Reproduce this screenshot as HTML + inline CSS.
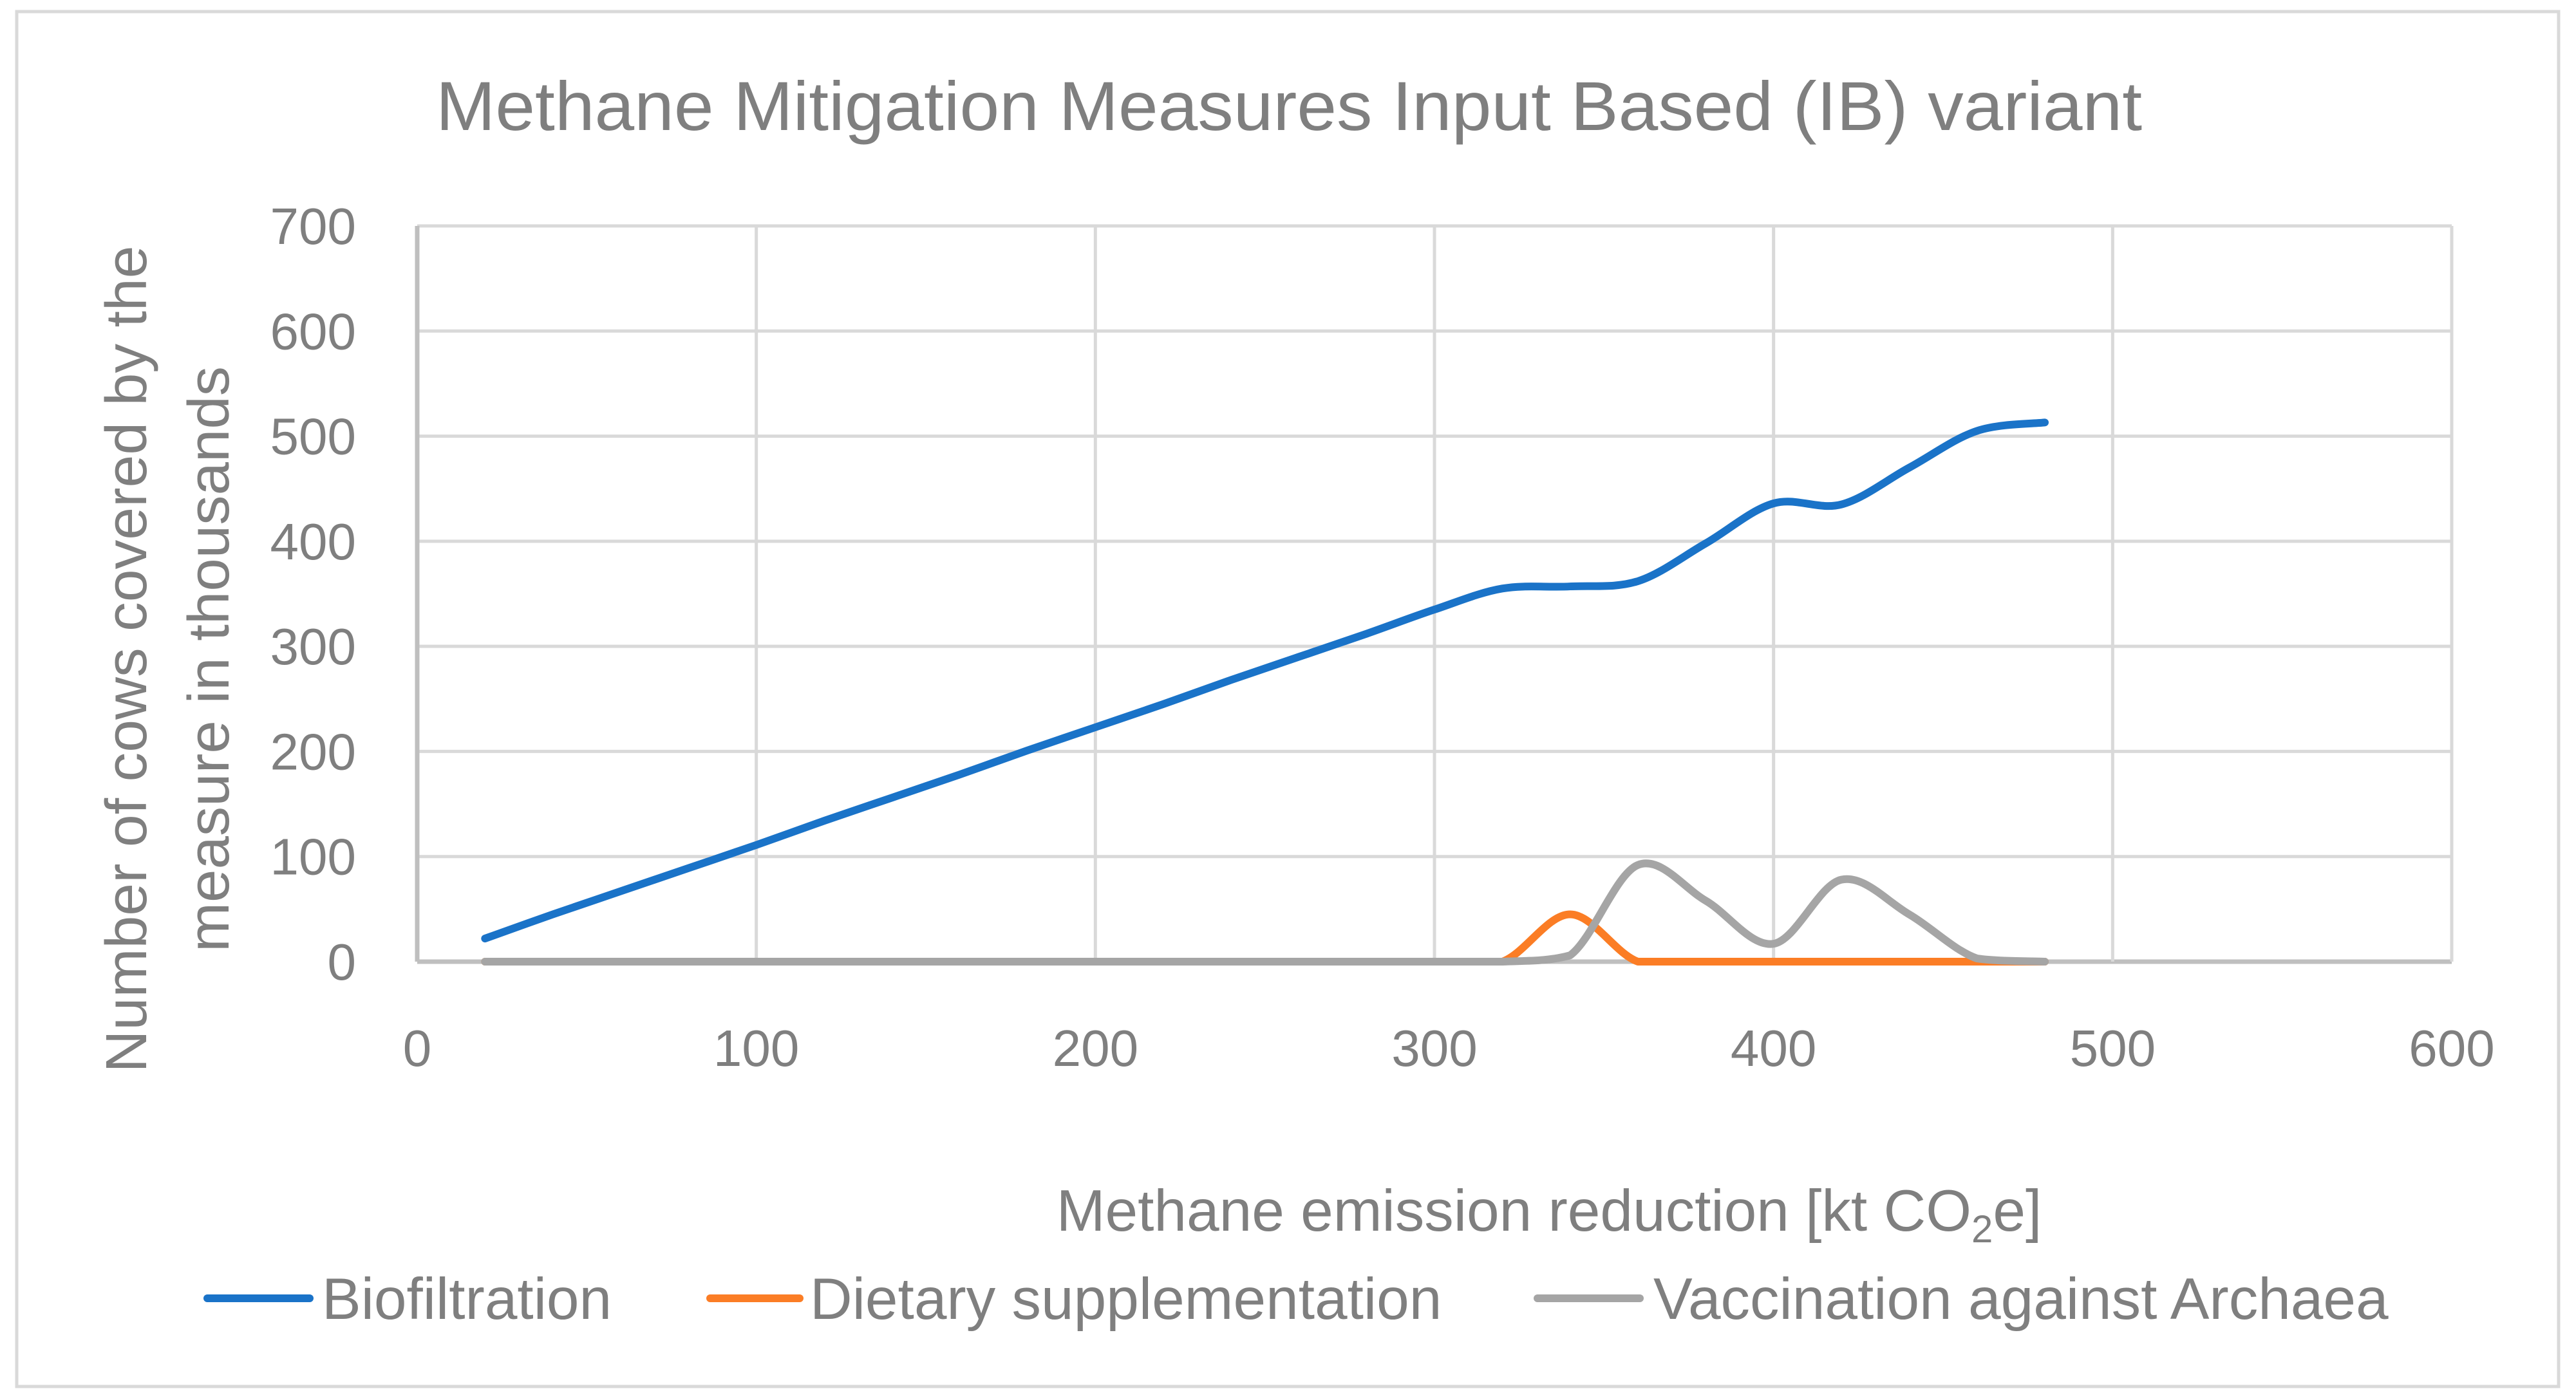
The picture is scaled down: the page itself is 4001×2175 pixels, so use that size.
<!DOCTYPE html>
<html><head><meta charset="utf-8"><style>
html,body{margin:0;padding:0;background:#fff}
svg{display:block}
text{font-family:"Liberation Sans",sans-serif;fill:#7f7f7f}
</style></head><body>
<svg width="4001" height="2175" viewBox="0 0 4001 2175" xmlns="http://www.w3.org/2000/svg">
<rect x="26" y="18" width="3948" height="2136" fill="#fff" stroke="#d9d9d9" stroke-width="5"/>
<text x="2002" y="202" text-anchor="middle" font-size="108" textLength="2650" lengthAdjust="spacingAndGlyphs">Methane Mitigation Measures Input Based (IB) variant</text>
<g id="grid"></g>
<g id="ticks"></g>
<g id="series"></g>
<text transform="translate(227,1024) rotate(-90)" text-anchor="middle" font-size="90" textLength="1285" lengthAdjust="spacingAndGlyphs">Number of cows covered by the</text>
<text transform="translate(355,1024) rotate(-90)" text-anchor="middle" font-size="90" textLength="910" lengthAdjust="spacingAndGlyphs">measure in thousands</text>
<text x="2406" y="1912" text-anchor="middle" font-size="91">Methane emission reduction [kt CO<tspan font-size="60" dy="18">2</tspan><tspan dy="-18">e</tspan>]</text>
<g>
<line x1="322" y1="2017" x2="481" y2="2017" stroke="#1a73c8" stroke-width="12" stroke-linecap="round"/>
<text x="500" y="2049" font-size="91">Biofiltration</text>
<line x1="1103" y1="2017" x2="1242" y2="2017" stroke="#fb7d25" stroke-width="12" stroke-linecap="round"/>
<text x="1258" y="2049" font-size="91">Dietary supplementation</text>
<line x1="2388" y1="2017" x2="2547" y2="2017" stroke="#a5a5a5" stroke-width="12" stroke-linecap="round"/>
<text x="2568" y="2049" font-size="91">Vaccination against Archaea</text>
</g>
</svg>
<script>
const xValues=[20,40,60,80,100,120,140,160,180,200,220,240,260,280,300,320,340,360,380,400,420,440,460,480];
const biofiltration=[22,45,67,89,111,134,156,178,201,223,245,268,290,312,335,355,357,362,398,436,435,470,505,513];
const dietary=[0,0,0,0,0,0,0,0,0,0,0,0,0,0,0,0,45,0,0,0,0,0,0,0];
const vaccination=[0,0,0,0,0,0,0,0,0,0,0,0,0,0,0,0,6,92,58,17,78,45,3,0];
const xTicks=[0,100,200,300,400,500,600];
const yTicks=[0,100,200,300,400,500,600,700];
const L=648,R=3808,T=351,B=1494;
const sx=v=>L+v/600*(R-L), sy=v=>B-v/700*(B-T);
const NS="http://www.w3.org/2000/svg";
const grid=document.getElementById('grid'),ticks=document.getElementById('ticks'),ser=document.getElementById('series');
function mk(tag,attrs,parent){const e=document.createElementNS(NS,tag);for(const k in attrs)e.setAttribute(k,attrs[k]);parent.appendChild(e);return e;}
yTicks.forEach(v=>{
 const l=mk('line',{x1:L,x2:R,y1:sy(v),y2:sy(v),stroke:v===0?'#bfbfbf':'#d9d9d9','stroke-width':v===0?7:5},grid);
 
 
 const t=mk('text',{x:L-95,y:sy(v)+28,'text-anchor':'end','font-size':80},ticks);
 t.textContent=v;
 
 
});
xTicks.forEach(v=>{
 const l=mk('line',{x1:sx(v),x2:sx(v),y1:T,y2:B,stroke:v===0?'#bfbfbf':'#d9d9d9','stroke-width':v===0?7:5},grid);
 
 
 const t=mk('text',{x:sx(v),y:1656,'text-anchor':'middle','font-size':80},ticks);
 t.textContent=v;
 
 
});
function smooth(xs,ys){
 const p=xs.map((x,i)=>[sx(x),sy(ys[i])]);
 let d='M'+p[0][0]+','+p[0][1];
 const k=1/6;
 for(let i=0;i<p.length-1;i++){
  const p0=p[Math.max(0,i-1)],p1=p[i],p2=p[i+1],p3=p[Math.min(p.length-1,i+2)];
  const c1=[p1[0]+(p2[0]-p0[0])*k,Math.min(B,p1[1]+(p2[1]-p0[1])*k)];
  const c2=[p2[0]-(p3[0]-p1[0])*k,Math.min(B,p2[1]-(p3[1]-p1[1])*k)];
  d+=' C'+c1[0]+','+c1[1]+' '+c2[0]+','+c2[1]+' '+p2[0]+','+p2[1];
 }
 return d;
}
[[biofiltration,'#1a73c8','biofiltration-line'],[dietary,'#fb7d25','dietary-line'],[vaccination,'#a5a5a5','vaccination-line']].forEach(([ys,c,n])=>{
 const path=mk('path',{d:smooth(xValues,ys),fill:'none',stroke:c,'stroke-width':12,'stroke-linecap':'round','stroke-linejoin':'round'},ser);
 
 
});
</script>
</body></html>
